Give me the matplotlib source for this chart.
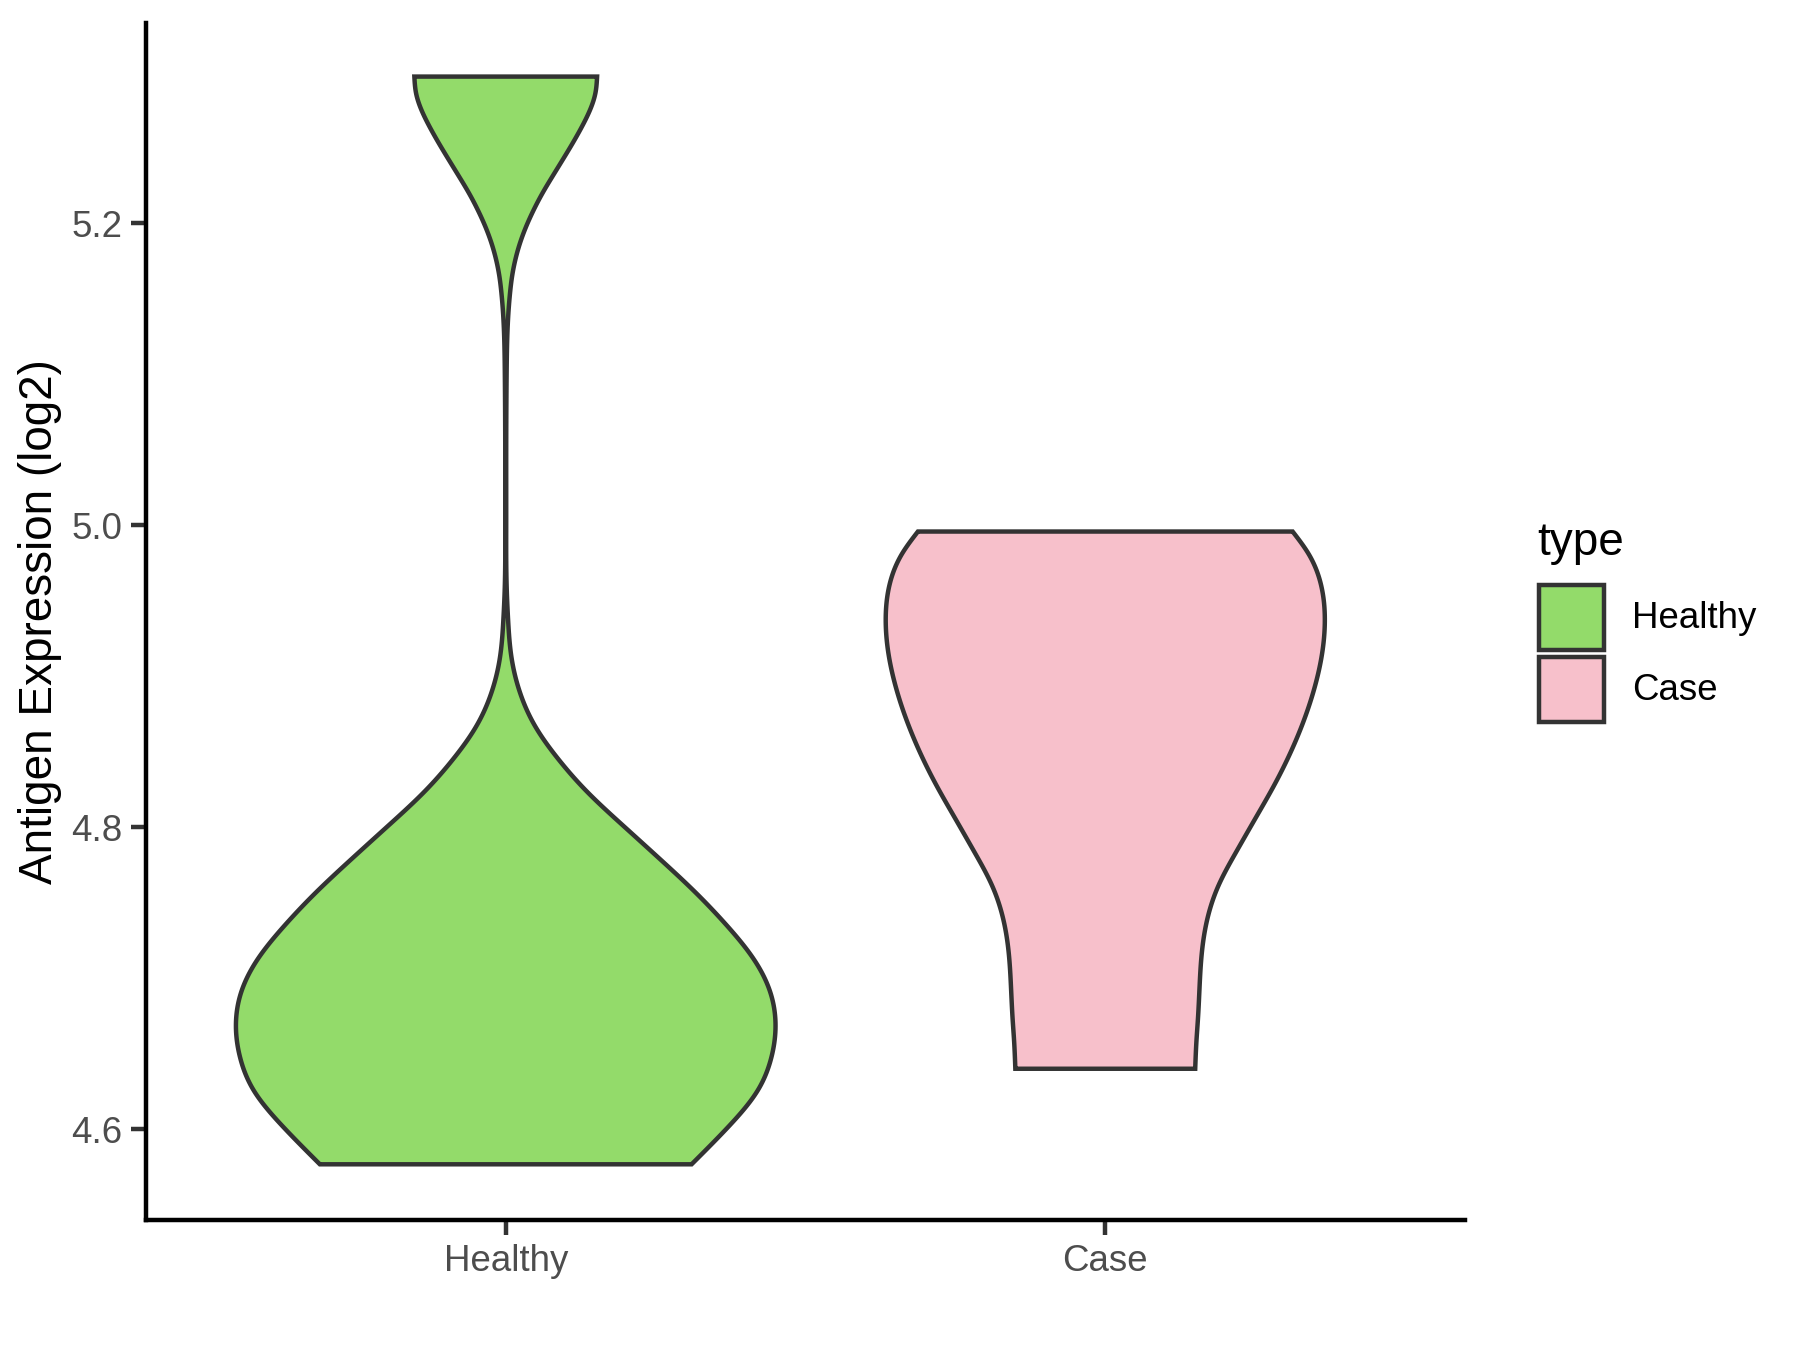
import numpy as np
import matplotlib
matplotlib.use("Agg")
import matplotlib.pyplot as plt
from matplotlib.patches import Rectangle

plt.rcParams["font.family"] = ["Liberation Sans", "DejaVu Sans"]

# violin outlines: value (log2) and half-width (category units)
categories = ["Healthy", "Case"]
colors = ["#93DB6A", "#F7C0CB"]

healthy_y = [4.5767, 4.6027, 4.6248, 4.6468, 4.6689, 4.691, 4.713, 4.735, 4.757, 4.779,
             4.801, 4.823, 4.845, 4.867, 4.889, 4.9115, 4.937, 4.960, 5.000, 5.047,
             5.101, 5.141, 5.154, 5.165, 5.1761, 5.1871, 5.1981, 5.2091, 5.2202, 5.2312,
             5.2422, 5.2533, 5.2643, 5.2753, 5.2864, 5.2973]
healthy_w = [0.310, 0.374, 0.419, 0.4426, 0.450, 0.441, 0.413, 0.3686, 0.316, 0.257,
             0.196, 0.137, 0.088, 0.049, 0.024, 0.010, 0.004, 0.0015, 0.0008, 0.0008,
             0.0015, 0.0045, 0.0072, 0.0106, 0.0161, 0.0239, 0.0342, 0.0468, 0.0615, 0.0780,
             0.0950, 0.1118, 0.1273, 0.1407, 0.1496, 0.1524]

case_y = [4.640, 4.6579, 4.6733, 4.6953, 4.7174, 4.7395, 4.7615, 4.7836, 4.8056, 4.8276,
          4.8497, 4.8718, 4.8938, 4.916, 4.938, 4.960, 4.982, 4.9959]
case_w = [0.150, 0.152, 0.1546, 0.1574, 0.1612, 0.1704, 0.189, 0.2183, 0.250, 0.2814,
          0.3092, 0.3322, 0.350, 0.362, 0.3662, 0.3602, 0.3377, 0.3125]

yticks = [4.6, 4.8, 5.0, 5.2]


def spline(x, y, xn):
    # natural cubic spline
    x = np.asarray(x, float)
    y = np.asarray(y, float)
    n = len(x)
    h = np.diff(x)
    A = np.zeros((n, n))
    b = np.zeros(n)
    A[0, 0] = A[-1, -1] = 1
    for i in range(1, n - 1):
        A[i, i - 1] = h[i - 1]
        A[i, i] = 2 * (h[i - 1] + h[i])
        A[i, i + 1] = h[i]
        b[i] = 6 * ((y[i + 1] - y[i]) / h[i] - (y[i] - y[i - 1]) / h[i - 1])
    M = np.linalg.solve(A, b)
    idx = np.clip(np.searchsorted(x, xn) - 1, 0, n - 2)
    t1 = x[idx + 1] - xn
    t0 = xn - x[idx]
    hi = h[idx]
    return (M[idx] * t1**3 / (6 * hi) + M[idx + 1] * t0**3 / (6 * hi)
            + (y[idx] / hi - M[idx] * hi / 6) * t1
            + (y[idx + 1] / hi - M[idx + 1] * hi / 6) * t0)


fig = plt.figure(figsize=(6, 4.5), dpi=300)
ax = fig.add_axes([146 / 1800, 1 - 1220 / 1350, (1465 - 146) / 1800, (1220 - 23) / 1350])

for i, (ys, ws) in enumerate([(healthy_y, healthy_w), (case_y, case_w)]):
    yy = np.linspace(ys[0], ys[-1], 800)
    ww = np.clip(spline(ys, ws, yy), 0.0005, None)
    xc = i + 1
    px = np.concatenate([xc - ww, (xc + ww)[::-1]])
    py = np.concatenate([yy, yy[::-1]])
    ax.fill(px, py, facecolor=colors[i], edgecolor="#333333", linewidth=1.07,
            joinstyle="miter")

ax.set_xlim(0.4, 2.6)
ax.set_ylim(4.5398, 5.3328)
ax.set_xticks([1, 2])
ax.set_xticklabels(categories)
ax.set_yticks(yticks)
ax.set_yticklabels([f"{v:.1f}" for v in yticks])
ax.tick_params(axis="both", length=3.5, width=1.07, color="#333333",
               labelsize=8.8, labelcolor="#4D4D4D", pad=2.2)
for s in ["top", "right"]:
    ax.spines[s].set_visible(False)
for s in ["left", "bottom"]:
    ax.spines[s].set_linewidth(1.07)
    ax.spines[s].set_color("black")

fig.text(40 / 1800, 1 - 621.5 / 1350, "Antigen Expression (log2)", rotation=90,
         ha="center", va="center", fontsize=11, color="black")

# legend
fig.text(1537 / 1800, 1 - 555 / 1350, "type", fontsize=11, ha="left", va="baseline")
key_tops = [585, 657]
for lab, col, top in zip(categories, colors, key_tops):
    fig.add_artist(Rectangle((1539 / 1800, 1 - (top + 65) / 1350), 65 / 1800, 65 / 1350,
                             transform=fig.transFigure, facecolor=col,
                             edgecolor="#333333", linewidth=1.07))
    fig.text(1632 / 1800, 1 - (top + 33) / 1350, lab, fontsize=8.8,
             ha="left", va="center")

fig.savefig("out.png", dpi=300)
